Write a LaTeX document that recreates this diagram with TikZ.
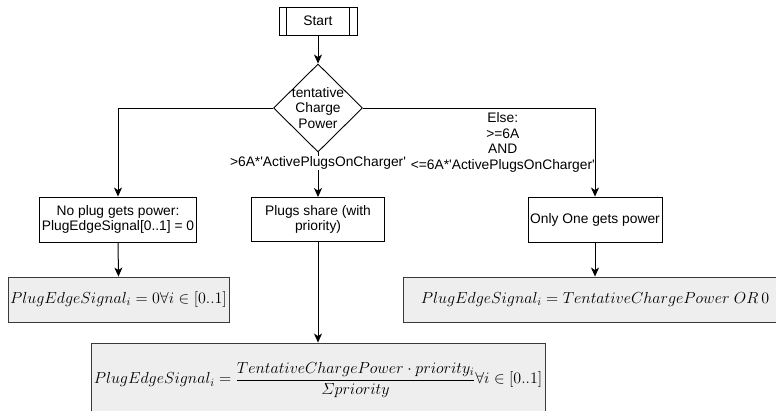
\RequirePackage{fix-cm}
\documentclass[tikz,border=0pt]{standalone}
\usepackage{fontspec}
\setmainfont{Liberation Sans}
\usepackage{amsmath}
\usepackage{textcomp}
\usetikzlibrary{arrows.meta,shapes.geometric}

\definecolor{boxgray}{HTML}{EEEEEE}
\definecolor{boxline}{HTML}{3A3A3A}
\newcommand{\sq}{\textquotesingle}

\tikzset{
  every node/.style={font=\fontsize{13.8}{15.5}\selectfont},
  flow/.style={line width=1pt, -{Stealth[length=9pt,width=8pt,inset=2.5pt]}},
  procbox/.style={draw, line width=0.9pt, fill=white, align=center, inner sep=2pt},
  mathbox/.style={draw=boxline, line width=0.9pt, fill=boxgray, inner sep=2pt,
                  font=\fontsize{16}{19}\selectfont},
  edgetext/.style={align=center, inner sep=1pt},
}

\begin{document}
\begin{tikzpicture}[x=1pt,y=-1pt]
\clip (0,0) rectangle (776,410);
\fill[white] (0,0) rectangle (776,410);

% start terminal (process shape with side bars)
\node[procbox, minimum width=78pt, minimum height=28pt] (start) at (318,21) {Start};
\draw[line width=0.9pt] ([xshift=8pt]start.north west) -- ([xshift=8pt]start.south west);
\draw[line width=0.9pt] ([xshift=-8pt]start.north east) -- ([xshift=-8pt]start.south east);

% decision
\node[diamond, draw, line width=0.9pt, minimum width=89pt, minimum height=88pt, inner sep=0pt] (dec) at (318,108) {};
\node[align=center, inner sep=0pt] (dectext) at (dec.center) {tentative\\Charge\\Power};

% outcome boxes
\node[procbox, minimum width=152pt, minimum height=45pt] (nop) at (118,219.5)
  {No plug gets power:\\PlugEdgeSignal[0..1] = 0};
\node[procbox, minimum width=133pt, minimum height=44pt] (share) at (318,219.5)
  {Plugs share (with\\priority)};
\node[procbox, minimum width=134pt, minimum height=45pt] (one) at (595,219.5)
  {Only One gets power};

% formulas
\node[mathbox, minimum width=221pt, minimum height=45pt] (gl) at (118.5,299.5)
  {$PlugEdgeSignal_i = 0 \forall i \in [0..1]$};
\node[mathbox, minimum width=454pt, minimum height=74pt] (gm) at (318,380)
  {$\displaystyle PlugEdgeSignal_i = \frac{TentativeChargePower \cdot priority_i}{\varSigma priority} \forall i \in [0..1]$};
\node[mathbox, minimum width=384pt, minimum height=45pt] (gr) at (595,299.5)
  {$PlugEdgeSignal_i = TentativeChargePower\;OR\,0$};

% connectors
\draw[flow] (start.south) -- (dec.north);
\draw[flow] (dec.west) -| (nop.north);
\draw[flow] (dec.east) -| (one.north);
\draw[flow] (dec.south) -- (share.north);
\node[edgetext, fill=white] (lblmid) at (318,163) {>6A*\sq ActivePlugsOnCharger\sq};
\node[edgetext, anchor=east] (lblright) at (596,143) {\begin{tabular}{@{}c@{}}Else:\\>=6A\\AND\\<=6A*\sq ActivePlugsOnCharger\sq\end{tabular}};
\draw[flow] (nop.south) -- (gl.north);
\draw[flow] (share.south) -- (gm.north);
\draw[flow] (one.south) -- (gr.north);
\end{tikzpicture}
\end{document}
